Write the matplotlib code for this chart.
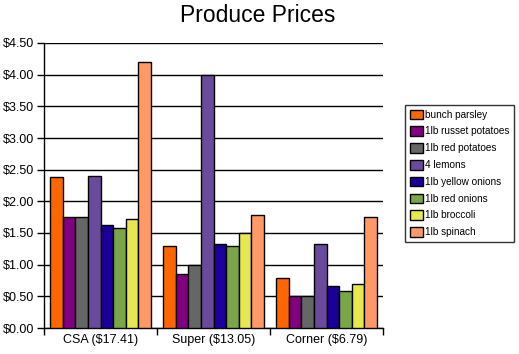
import numpy as np
import matplotlib.pyplot as plt
from matplotlib.ticker import FuncFormatter

plt.rcParams['font.family'] = ['Liberation Sans', 'DejaVu Sans']

stores = ['CSA ($17.41)', 'Super ($13.05)', 'Corner ($6.79)']
items = ['bunch parsley', '1lb russet potatoes', '1lb red potatoes', '4 lemons',
         '1lb yellow onions', '1lb red onions', '1lb broccoli', '1lb spinach']
csa = [2.39, 1.75, 1.75, 2.40, 1.62, 1.58, 1.72, 4.20]
superm = [1.30, 0.85, 1.00, 4.00, 1.32, 1.29, 1.50, 1.79]
corner = [0.79, 0.50, 0.50, 1.32, 0.66, 0.58, 0.69, 1.75]
colors = ['#ff6600', '#800080', '#666666', '#6a4a9a',
          '#1a0099', '#7ba647', '#e6e84f', '#ff9966']

prices = np.array([csa, superm, corner])  # rows = stores
fig = plt.figure(figsize=(5.19, 3.54), dpi=100)
ax = fig.add_axes([44/519, 1-328/354, 339/519, 285/354])

ind = np.arange(len(stores))
w = 0.111
for i, item in enumerate(items):
    ax.bar(ind - 3.5*w + i*w, prices[:, i], w, color=colors[i],
           edgecolor='black', linewidth=1, label=item, zorder=3)

ax.set_xlim(-0.5, 2.5)
ax.set_ylim(0, 4.5)
ax.set_yticks(np.arange(0, 4.51, 0.5))
ax.yaxis.set_major_formatter(FuncFormatter(lambda v, p: '$%.2f' % v))
ax.set_xticks(ind)
ax.set_xticklabels(stores)
ax.tick_params(axis='x', length=0, labelsize=9, pad=4)
ax.set_xticks([-0.5, 0.5, 1.5, 2.5], minor=True)
ax.tick_params(axis='x', which='minor', length=5, width=1, direction='out')
ax.tick_params(axis='y', length=5, width=1, direction='out', labelsize=9, pad=2)
ax.grid(axis='y', color='black', linewidth=1, zorder=0)
ax.spines['top'].set_visible(False)
ax.spines['right'].set_visible(False)
ax.spines['left'].set_linewidth(1)
ax.spines['bottom'].set_linewidth(1)

fig.text(258/519, 1-15/354, 'Produce Prices', ha='center', va='center', fontsize=16.5)

leg = fig.legend(loc='upper left', bbox_to_anchor=(405/519, 1-105/354), fontsize=7.2,
                 frameon=True, fancybox=False, edgecolor='black', handlelength=1.3,
                 handleheight=1.1, handletextpad=0.25, labelspacing=0.66, borderpad=0.45,
                 borderaxespad=0)
leg.get_frame().set_linewidth(1)

fig.savefig('out.png', dpi=100)
